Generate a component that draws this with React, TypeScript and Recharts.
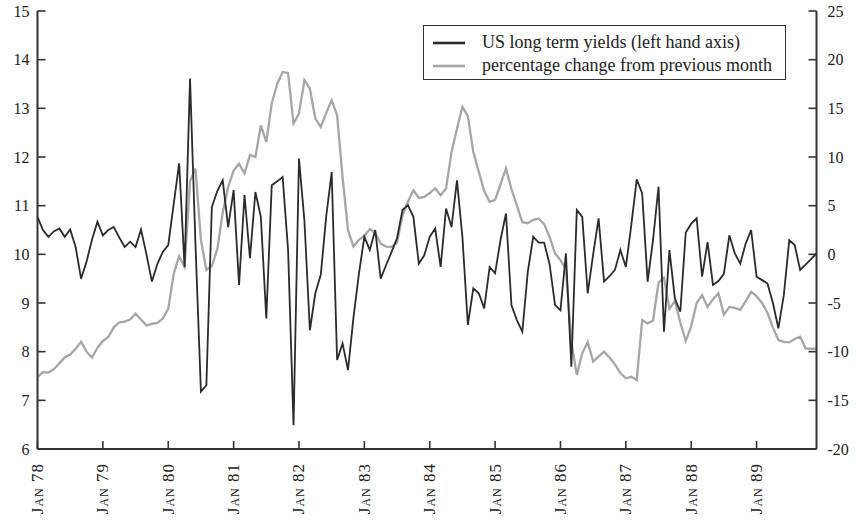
import React from 'react';
import { LineChart, Line, XAxis, YAxis, Legend } from 'recharts';

// Month and year categories (Jan 78 .. Dec 89)
const MONTHS = ['Jan', 'Feb', 'Mar', 'Apr', 'May', 'Jun', 'Jul', 'Aug', 'Sep', 'Oct', 'Nov', 'Dec'];
const YEARS = ['78', '79', '80', '81', '82', '83', '84', '85', '86', '87', '88', '89'];

// US long term yields (left hand axis), one value per month
const yields = [
  10.77, 10.5, 10.36, 10.47, 10.53, 10.36, 10.51, 10.15, 9.5, 9.85, 10.3, 10.67,
  10.39, 10.5, 10.56, 10.35, 10.15, 10.26, 10.15, 10.51, 10.0, 9.44, 9.8, 10.05,
  10.19, 11.03, 11.87, 9.74, 13.61, 10.2, 7.18, 7.31, 10.97, 11.3, 11.52, 10.56,
  11.32, 9.37, 11.22, 9.92, 11.28, 10.77, 8.68, 11.42, 11.5, 11.59, 10.09, 6.49,
  11.97, 10.69, 8.44, 9.2, 9.58, 10.78, 11.69, 7.83, 8.17, 7.62, 8.7, 9.6,
  10.36, 10.09, 10.5, 9.5, 9.78, 10.05, 10.33, 10.91, 11.01, 10.77, 9.81, 9.98,
  10.36, 10.53, 9.74, 10.94, 10.56, 11.52, 10.36, 8.55, 9.3, 9.2, 8.89, 9.74,
  9.61, 10.3, 10.84, 8.96, 8.65, 8.41, 9.64, 10.36, 10.24, 10.24, 9.8, 8.96,
  8.85, 10.02, 7.69, 10.91, 10.77, 9.2, 10.0, 10.74, 9.44, 9.55, 9.68, 10.09,
  9.74, 10.6, 11.54, 11.25, 9.44, 10.3, 11.39, 8.41, 10.09, 9.09, 8.82, 10.45,
  10.63, 10.74, 9.54, 10.25, 9.37, 9.45, 9.6, 10.39, 10.02, 9.81, 10.22, 10.5,
  9.54, 9.47, 9.4, 9.0, 8.48, 9.16, 10.29, 10.19, 9.68, 9.79, 9.9, 10.02,
];

// Percentage change from previous month (right hand axis)
const pctChange = [
  -12.58, -12.1, -12.15, -11.8, -11.2, -10.6, -10.3, -9.7, -8.98, -10.0, -10.6, -9.6,
  -8.9, -8.5, -7.5, -7.0, -6.92, -6.7, -6.1, -6.7, -7.3, -7.15, -7.05, -6.6,
  -5.6, -2.0, -0.2, -1.28, 7.5, 8.82, 1.5, -1.6, -1.2, 0.5, 4.3, 6.9,
  8.6, 9.3, 8.31, 10.2, 10.01, 13.26, 11.55, 15.5, 17.5, 18.74, 18.63, 13.44,
  14.47, 17.89, 17.03, 13.95, 13.09, 14.5, 15.83, 14.29, 7.9, 2.48, 0.8, 1.5,
  1.9, 2.6, 2.2, 1.1, 0.8, 0.77, 1.2, 4.0, 5.4, 6.59, 5.8, 5.9,
  6.3, 6.77, 6.08, 6.77, 10.5, 12.9, 15.14, 14.2, 10.5, 8.5, 6.5, 5.4,
  5.6, 7.2, 8.82, 6.7, 5.0, 3.3, 3.2, 3.55, 3.68, 3.1, 1.8, 0.1,
  -0.6, -1.5, -9.0, -12.4, -10.17, -9.0, -11.0, -10.5, -10.0, -10.6, -11.3, -12.2,
  -12.74, -12.58, -12.92, -6.76, -7.1, -6.8, -2.9, -2.4, -5.6, -4.8, -7.0, -8.9,
  -7.4, -5.0, -4.2, -5.4, -4.6, -4.0, -6.2, -5.4, -5.5, -5.7, -4.8, -3.85,
  -4.3, -5.0, -6.0, -7.5, -8.8, -9.0, -9.05, -8.7, -8.47, -9.66, -9.7, -9.7,
];

const yieldTicks = [6, 7, 8, 9, 10, 11, 12, 13, 14, 15];
const changeTicks = [-20, -15, -10, -5, 0, 5, 10, 15, 20, 25];
const yearTicks = YEARS.map((y) => `Jan ${y}`);

const SERIES_YIELDS = 'US long term yields (left hand axis)';
const SERIES_CHANGE = 'percentage change from previous month';

const data = YEARS.flatMap((yr, yi) =>
  MONTHS.map((m, mi) => ({
    month: `${m} ${yr}`,
    yields: yields[yi * 12 + mi],
    change: pctChange[yi * 12 + mi],
  }))
);

const FONT = "'Liberation Serif', 'DejaVu Serif', serif";
const INK = '#2b2b2b';
const GREY = '#a6a6a6';
const AXIS = '#333';
const TICK_LEN = 8;
const GAP_X = 14; // distance from x axis to the (rotated) year labels
const GAP_L = 8; // left labels
const GAP_R = 11; // right labels

// Year labels on the x axis, with ticks pointing up into the plot
const MonthTick = (props: any) => {
  const { x, y, payload } = props;
  const axisY = y - GAP_X;
  return (
    <g>
      <line x1={x} x2={x} y1={axisY} y2={axisY - TICK_LEN} stroke={AXIS} strokeWidth={1.6} />
      <text
        x={x}
        y={y}
        transform={`rotate(-90 ${x} ${y})`}
        textAnchor="end"
        dominantBaseline="central"
        fontFamily={FONT}
        fontSize={17}
        fill="#222"
        style={{ fontVariant: 'small-caps', letterSpacing: 1 }}
      >
        {payload.value}
      </text>
    </g>
  );
};

// Left axis labels, ticks pointing right into the plot
const LeftTick = (props: any) => {
  const { x, y, payload } = props;
  const axisX = x + GAP_L;
  return (
    <g>
      <line x1={axisX} x2={axisX + TICK_LEN} y1={y} y2={y} stroke={AXIS} strokeWidth={1.6} />
      <text x={x} y={y} dy="0.36em" textAnchor="end" fontFamily={FONT} fontSize={16} fill="#222">
        {payload.value}
      </text>
    </g>
  );
};

// Right axis labels, ticks pointing left into the plot
const RightTick = (props: any) => {
  const { x, y, payload } = props;
  const axisX = x - GAP_R;
  return (
    <g>
      <line x1={axisX} x2={axisX - TICK_LEN} y1={y} y2={y} stroke={AXIS} strokeWidth={1.6} />
      <text x={x} y={y} dy="0.36em" textAnchor="start" fontFamily={FONT} fontSize={16} fill="#222">
        {payload.value}
      </text>
    </g>
  );
};

const LegendBox = () => (
  <div
    style={{
      boxSizing: 'border-box',
      width: 363,
      height: 55,
      border: `1.5px solid ${AXIS}`,
      background: '#fff',
      padding: '5px 0 0 9px',
      fontFamily: FONT,
      fontSize: 18,
      color: '#222',
      lineHeight: '23px',
    }}
  >
    {[
      { label: SERIES_YIELDS, color: INK },
      { label: SERIES_CHANGE, color: GREY },
    ].map((row) => (
      <div key={row.label} style={{ display: 'flex', alignItems: 'center', height: 23, whiteSpace: 'nowrap' }}>
        <svg width={32} height={10} style={{ marginRight: 17, flex: 'none' }}>
          <line x1={0} y1={5} x2={32} y2={5} stroke={row.color} strokeWidth={2.6} />
        </svg>
        <span>{row.label}</span>
      </div>
    ))}
  </div>
);

export default function App() {
  return (
    <div style={{ position: 'absolute', left: 0, top: 0, width: 856, height: 520, background: '#fff' }}>
      <LineChart
        width={856}
        height={520}
        data={data}
        margin={{ top: 11, right: 7.5, bottom: 0, left: 7.5 }}
      >
        <XAxis
          dataKey="month"
          ticks={yearTicks}
          interval={0}
          height={71}
          tickSize={0}
          tickMargin={GAP_X}
          axisLine={{ stroke: AXIS, strokeWidth: 2 }}
          tickLine={false}
          tick={<MonthTick />}
        />
        <YAxis
          yAxisId="left"
          orientation="left"
          width={30}
          domain={[6, 15]}
          ticks={yieldTicks}
          interval={0}
          tickSize={0}
          tickMargin={GAP_L}
          axisLine={{ stroke: AXIS, strokeWidth: 2 }}
          tickLine={false}
          tick={<LeftTick />}
        />
        <YAxis
          yAxisId="right"
          orientation="right"
          width={32}
          domain={[-20, 25]}
          ticks={changeTicks}
          interval={0}
          tickSize={0}
          tickMargin={GAP_R}
          axisLine={{ stroke: AXIS, strokeWidth: 2 }}
          tickLine={false}
          tick={<RightTick />}
        />
        <Legend
          layout="vertical"
          verticalAlign="middle"
          align="center"
          wrapperStyle={{ left: 423, top: 25, width: 363, height: 55 }}
          content={() => <LegendBox />}
        />
        <Line
          yAxisId="right"
          type="linear"
          dataKey="change"
          name={SERIES_CHANGE}
          stroke={GREY}
          strokeWidth={2.3}
          dot={false}
          isAnimationActive={false}
        />
        <Line
          yAxisId="left"
          type="linear"
          dataKey="yields"
          name={SERIES_YIELDS}
          stroke={INK}
          strokeWidth={1.8}
          dot={false}
          isAnimationActive={false}
        />
      </LineChart>
    </div>
  );
}
